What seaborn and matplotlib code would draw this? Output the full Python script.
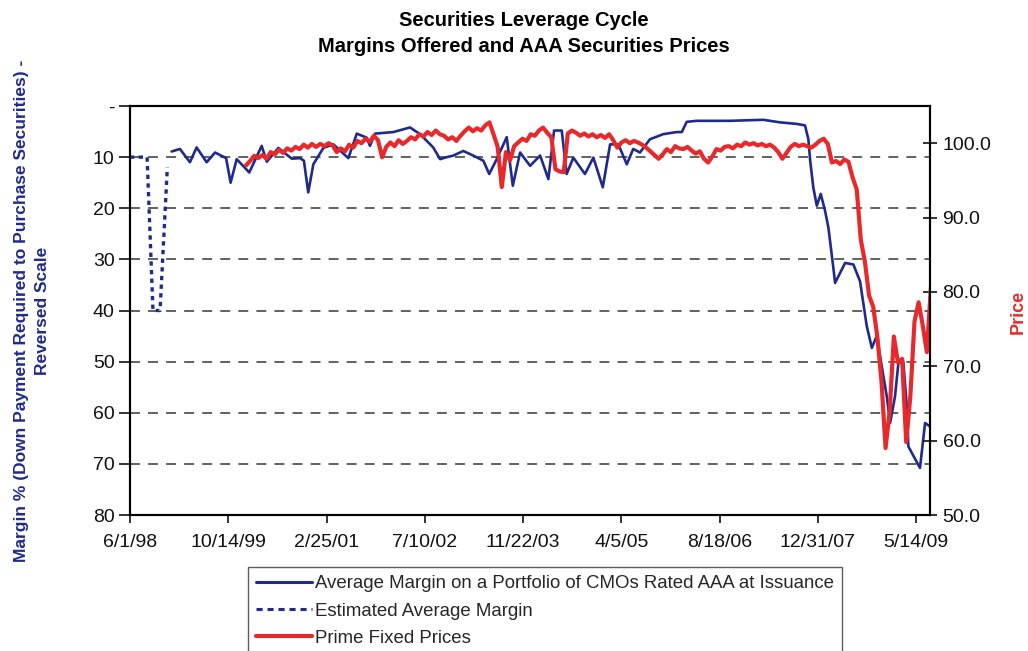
import numpy as np
import pandas as pd
import matplotlib
matplotlib.use("Agg")
import matplotlib.pyplot as plt
from matplotlib.lines import Line2D
import seaborn as sns

# ---------------- data ----------------
title_lines = ["Securities Leverage Cycle", "Margins Offered and AAA Securities Prices"]
left_label = "Margin % (Down Payment Required to Purchase Securities) -\nReversed Scale"
right_label = "Price"
legend_labels = ["Average Margin on a Portfolio of CMOs Rated AAA at Issuance",
                 "Estimated Average Margin",
                 "Prime Fixed Prices"]

x_tick_labels = ["6/1/98", "10/14/99", "2/25/01", "7/10/02", "11/22/03",
                 "4/5/05", "8/18/06", "12/31/07", "5/14/09"]
x_end = "2009-07-24"
margin_ticks = [0, 10, 20, 30, 40, 50, 60, 70, 80]
margin_tick_labels = ["-", "10", "20", "30", "40", "50", "60", "70", "80"]
price_ticks = [50, 60, 70, 80, 90, 100]
price_tick_labels = ["50.0", "60.0", "70.0", "80.0", "90.0", "100.0"]

series_start = "1998-06-01"   # day 0

# Estimated average margin (dotted), days after series_start
est_days = [0, 87, 117, 153, 190]
est_margin = [10, 10, 40, 40, 12]

# Average margin on AAA CMOs (solid blue), days after series_start
blue_days = [212, 254, 305, 339, 390, 433, 489, 512, 543, 607,
             670, 696, 755, 823, 865, 885, 907, 933, 984, 1035,
             1111, 1154, 1205, 1221, 1247, 1340, 1425, 1476, 1543, 1578,
             1612, 1645, 1696, 1747, 1798, 1828, 1866, 1917, 1948, 1985,
             2036, 2087, 2129, 2158, 2197, 2222, 2256, 2315, 2358, 2406,
             2443, 2485, 2528, 2561, 2595, 2646, 2714, 2782, 2808, 2833,
             2884, 3053, 3223, 3308, 3393, 3435, 3452, 3461, 3477, 3495,
             3515, 3537, 3554, 3579, 3588, 3639, 3681, 3715, 3749, 3775,
             3800, 3851, 3868, 3893, 3910, 3935, 3953, 3961, 4020, 4046, 4071]
blue_margin = [8.9, 8.4, 11.0, 8.1, 11.0, 9.1, 10.2, 15.0, 10.4, 13.0,
               7.8, 10.9, 8.2, 10.3, 10.2, 10.7, 16.9, 11.4, 8.2, 7.5,
               10.2, 5.4, 6.2, 7.8, 5.4, 5.1, 4.2, 5.5, 8.1, 10.4,
               10.0, 9.7, 8.8, 9.7, 10.7, 13.3, 10.4, 6.1, 15.6, 9.1,
               11.7, 9.7, 14.3, 4.8, 4.8, 13.3, 10.1, 13.3, 10.1, 15.9,
               7.5, 7.5, 11.4, 8.4, 9.1, 6.5, 5.5, 5.1, 5.1, 3.1,
               2.9, 2.9, 2.7, 3.2, 3.5, 3.8, 6.5, 10.6, 15.9, 19.5,
               17.2, 20.5, 23.8, 31.6, 34.6, 30.7, 31.0, 34.3, 43.0, 47.3,
               45.0, 56.8, 62.0, 56.8, 50.3, 50.0, 58.8, 66.6, 70.8, 62.0, 62.7]

# Prime fixed prices (red), sampled every 21 days from day 590
price_first_day = 590
price_step_days = 21
price_values = [
    97.0, 97.6, 98.3, 98.0, 98.4, 97.9, 98.8, 98.5, 99.1, 98.7,
    99.3, 99.0, 99.5, 99.2, 99.8, 99.4, 99.9, 99.5, 99.9, 99.6,
    100.0, 99.7, 98.8, 99.3, 98.9, 99.8, 99.4, 100.3, 100.0, 100.6,
    100.2, 101.0, 100.4, 98.1, 99.5, 100.1, 99.6, 100.4, 99.9, 100.3,
    100.8, 100.5, 101.2, 100.9, 101.5, 101.1, 101.7, 101.2, 101.0, 100.5,
    100.8, 100.3, 101.0, 101.6, 102.1, 101.6, 102.0, 101.7, 102.4, 102.8,
    101.2, 99.5, 94.1, 98.8, 97.7, 99.6, 100.1, 100.6, 100.3, 101.2,
    101.0, 101.7, 102.1, 101.4, 100.8, 96.5, 96.2, 96.1, 101.3, 101.7,
    101.4, 101.0, 101.3, 100.9, 101.2, 100.8, 101.1, 100.7, 101.2, 100.4,
    99.4, 100.1, 100.4, 100.0, 100.3, 100.1, 99.8, 99.4, 98.9, 98.4,
    97.9, 98.5, 99.2, 98.8, 99.6, 99.3, 99.2, 99.5, 99.0, 98.6,
    98.9, 97.9, 97.4, 98.2, 99.2, 99.0, 99.5, 99.6, 99.3, 99.8,
    99.6, 100.1, 99.8, 100.0, 99.7, 99.9, 99.6, 99.8, 99.4, 98.8,
    97.9, 98.7, 99.5, 99.9, 99.6, 99.8, 99.6, 99.4, 99.8, 100.3,
    100.6, 99.9, 97.4, 97.6, 97.2, 97.8, 97.5, 95.4, 93.8, 87.0,
    84.0, 79.5, 78.0, 74.0, 68.0, 59.0, 64.0, 74.0, 70.5, 71.0,
    59.8, 66.0, 76.0, 78.6, 75.5, 71.9, 80.8]

# ---------------- style ----------------
NAVY = "#1f2b8c"
RED = "#e8292b"
sns.set_style("white")
plt.rcParams["font.family"] = ["Liberation Sans", "DejaVu Sans"]

start = pd.Timestamp(series_start)
est_dates = start + pd.to_timedelta(est_days, unit="D")
blue_dates = start + pd.to_timedelta(blue_days, unit="D")
price_dates = start + pd.to_timedelta(
    price_first_day + price_step_days * np.arange(len(price_values)), unit="D")
tick_dates = pd.to_datetime(x_tick_labels, format="%m/%d/%y")

W, H = 1028, 651
fig = plt.figure(figsize=(W / 100, H / 100), dpi=100)
ax = fig.add_axes([130 / W, 1 - 515 / H, 800 / W, 409 / H])

sns.lineplot(x=blue_dates, y=blue_margin, ax=ax, color=NAVY, lw=1.9,
             estimator=None, sort=False)
sns.lineplot(x=est_dates, y=est_margin, ax=ax, color=NAVY, lw=2.4,
             linestyle=(0, (1.3, 1.3)), estimator=None, sort=False)

ax.set_ylim(80, 0)
ax.set_yticks(margin_ticks)
ax.set_yticklabels(margin_tick_labels)
ax.set_xlim(start, pd.Timestamp(x_end))
ax.set_xticks(tick_dates)
ax.set_xticklabels(x_tick_labels)
ax.set_xlabel("")
ax.set_ylabel("")
ax.yaxis.grid(True, linestyle=(0, (5.5, 4.5)), color="#555555", lw=1.3)
ax.xaxis.grid(False)
ax.set_axisbelow(True)
ax.tick_params(axis="y", direction="out", length=8, width=1.2, labelsize=14,
               pad=3, colors="#111111", left=True)
ax.tick_params(axis="x", direction="out", length=6, width=1.2, labelsize=14,
               pad=8, colors="#111111", bottom=True)

ax2 = ax.twinx()
sns.lineplot(x=price_dates, y=price_values, ax=ax2, color=RED, lw=3.0,
             estimator=None, sort=False)
ax2.set_ylim(50, 105)
ax2.set_yticks(price_ticks)
ax2.set_yticklabels(price_tick_labels)
ax2.set_ylabel("")
ax2.set_xlim(start, pd.Timestamp(x_end))
ax2.tick_params(axis="y", direction="inout", length=10, width=1.2, labelsize=14,
                pad=4, colors="#111111", right=True)

for a in (ax, ax2):
    for s in a.spines.values():
        s.set_visible(True)
        s.set_color("black")
        s.set_linewidth(1.5)

# titles and axis titles
fig.text(0.51, 1 - 20 / H, title_lines[0], ha="center", va="center",
         fontsize=14.5, fontweight="bold", color="black")
fig.text(0.51, 1 - 46 / H, title_lines[1], ha="center", va="center",
         fontsize=14.5, fontweight="bold", color="black")
fig.text(32 / W, 1 - 311 / H, left_label, rotation=90, ha="center", va="center",
         multialignment="center", fontsize=12.5, fontweight="bold", color=NAVY,
         linespacing=1.45)
fig.text(1018 / W, 1 - 312 / H, right_label, rotation=90, ha="center",
         va="center", fontsize=13, fontweight="bold", color=RED)

handles = [Line2D([], [], color=NAVY, lw=2.2),
           Line2D([], [], color=NAVY, lw=2.2, linestyle=(0, (2, 1.6))),
           Line2D([], [], color=RED, lw=3.0)]
leg = fig.legend(handles, legend_labels, loc="upper left",
                 bbox_to_anchor=(248 / W, 1 - 567 / H), frameon=True,
                 fancybox=False, edgecolor="#333333", fontsize=13.4,
                 handlelength=3.0, handletextpad=0.15, labelspacing=0.55,
                 borderpad=0.45, borderaxespad=0)
leg.get_frame().set_linewidth(1.0)

fig.savefig("out.png", dpi=100)
